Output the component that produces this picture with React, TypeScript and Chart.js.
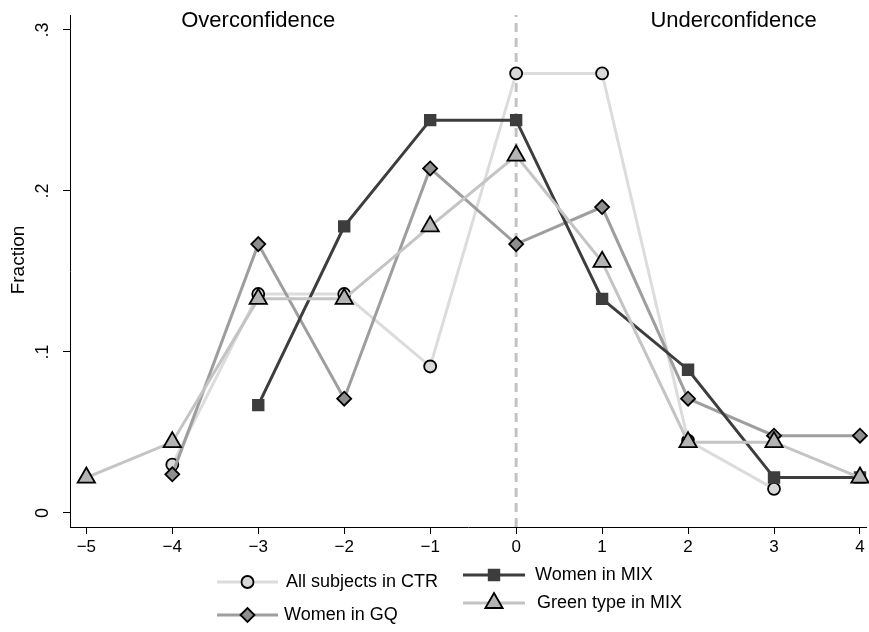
import React, { useEffect, useRef } from 'react';
import { Chart, registerables } from 'chart.js';
import { drawPoint } from 'chart.js/helpers';

Chart.register(...registerables);

// Gap between believed and actual rank (x) and share of subjects (y)
const ctrGap = [-4, -3, -2, -1, 0, 1, 2, 3];
const ctrFraction = [0.030, 0.136, 0.136, 0.091, 0.273, 0.273, 0.045, 0.015];

const gqGap = [-4, -3, -2, -1, 0, 1, 2, 3, 4];
const gqFraction = [0.024, 0.167, 0.071, 0.214, 0.167, 0.190, 0.071, 0.048, 0.048];

const mixGap = [-3, -2, -1, 0, 1, 2, 3, 4];
const mixFraction = [0.067, 0.178, 0.244, 0.244, 0.133, 0.089, 0.022, 0.022];

const greenGap = [-5, -4, -3, -2, -1, 0, 1, 2, 3, 4];
const greenFraction = [0.022, 0.044, 0.133, 0.133, 0.178, 0.222, 0.156, 0.044, 0.044, 0.022];

const xTicks = [-5, -4, -3, -2, -1, 0, 1, 2, 3, 4];
const yTicks = [0, 0.1, 0.2, 0.3];
const yTickLabels = ['0', '.1', '.2', '.3'];

const seriesNames = ['All subjects in CTR', 'Women in GQ', 'Women in MIX', 'Green type in MIX'];
const regionLabels = ['Overconfidence', 'Underconfidence'];
const regionLabelX = [-3, 2.53];
const regionLabelY = 0.3056;

const X_MIN = -5.19;
const X_MAX = 4.07;
const Y_MIN = -0.0087;
const Y_MAX = 0.3093;

const FONT = '"Liberation Sans", Arial, Helvetica, sans-serif';

const pts = (xs: number[], ys: number[]) => xs.map((x, i) => ({ x, y: ys[i] }));

type Style = {
  line: string;
  fill: string;
  edge: string;
  shape: string;
  radius: number;
};

const styles: Style[] = [
  { line: '#dcdcdc', fill: '#d8d8d8', edge: '#000000', shape: 'circle', radius: 6 },
  { line: '#9e9e9e', fill: '#8e8e8e', edge: '#000000', shape: 'rectRot', radius: 7 },
  { line: '#3d3d3d', fill: '#3d3d3d', edge: '#3d3d3d', shape: 'rect', radius: 7.5 },
  { line: '#c4c4c4', fill: '#b4b4b4', edge: '#000000', shape: 'triangle', radius: 10 },
];

// legend layout: [lineStart, lineEnd, textX, y]
const legendSlots = [
  [217, 278, 286, 582],
  [217, 278, 284, 615],
  [463, 525, 535, 575],
  [463, 525, 537, 603],
];

const decorPlugin = {
  id: 'decor',
  afterDraw(chart: any) {
    const ctx: CanvasRenderingContext2D = chart.ctx;
    const xs = chart.scales.x;
    const ys = chart.scales.y;
    ctx.save();
    ctx.fillStyle = '#000';
    ctx.textAlign = 'center';
    ctx.textBaseline = 'middle';

    // rotated y tick labels
    ctx.font = `18px ${FONT}`;
    yTicks.forEach((v, i) => {
      ctx.save();
      ctx.translate(43, ys.getPixelForValue(v));
      ctx.rotate(-Math.PI / 2);
      ctx.fillText(yTickLabels[i], 0, 0);
      ctx.restore();
    });

    // y axis title
    ctx.font = `19px ${FONT}`;
    ctx.save();
    ctx.translate(19, 260);
    ctx.rotate(-Math.PI / 2);
    ctx.fillText('Fraction', 0, 0);
    ctx.restore();

    // region labels
    ctx.font = `22px ${FONT}`;
    regionLabels.forEach((t, i) => {
      ctx.fillText(t, xs.getPixelForValue(regionLabelX[i]), ys.getPixelForValue(regionLabelY));
    });

    // legend
    ctx.font = `18px ${FONT}`;
    ctx.textAlign = 'left';
    seriesNames.forEach((name, i) => {
      const st = styles[i];
      const [x1, x2, tx, y] = legendSlots[i];
      ctx.strokeStyle = st.line;
      ctx.lineWidth = 3;
      ctx.setLineDash([]);
      ctx.beginPath();
      ctx.moveTo(x1, y);
      ctx.lineTo(x2, y);
      ctx.stroke();
      ctx.fillStyle = st.fill;
      ctx.strokeStyle = st.edge;
      ctx.lineWidth = 1.8;
      drawPoint(ctx, { pointStyle: st.shape, radius: st.radius, borderWidth: 1.8, rotation: 0 } as any, (x1 + x2) / 2, y);
      ctx.fillStyle = '#000';
      ctx.fillText(name, tx, y);
    });
    ctx.restore();
  },
};

const seriesData = [pts(ctrGap, ctrFraction), pts(gqGap, gqFraction), pts(mixGap, mixFraction), pts(greenGap, greenFraction)];

export default function App() {
  const canvasRef = useRef<HTMLCanvasElement | null>(null);

  useEffect(() => {
    document.body.style.margin = '0';
    const canvas = canvasRef.current;
    if (!canvas) return;

    const lineSets = seriesData.map((data, i) => ({
      label: seriesNames[i],
      data,
      borderColor: styles[i].line,
      borderWidth: 3,
      pointStyle: styles[i].shape,
      pointRadius: styles[i].radius,
      pointBackgroundColor: styles[i].fill,
      pointBorderColor: styles[i].edge,
      pointBorderWidth: 1.8,
      tension: 0,
      fill: false,
      clip: false as any,
    }));

    // later series drawn on top: Chart.js paints the first dataset last
    const ordered = [lineSets[3], lineSets[2], lineSets[1], lineSets[0]];

    const chart = new Chart(canvas, {
      type: 'line',
      data: {
        datasets: [
          ...ordered,
          {
            label: 'zero',
            data: [
              { x: 0, y: Y_MIN },
              { x: 0, y: Y_MAX },
            ],
            borderColor: '#c2c2c2',
            borderWidth: 3,
            borderDash: [9, 6],
            pointRadius: 0,
            fill: false,
          },
        ],
      },
      options: {
        responsive: false,
        animation: false,
        devicePixelRatio: 1,
        layout: { autoPadding: false, padding: { top: 15, right: 3, left: 0, bottom: 0 } },
        plugins: {
          legend: { display: false },
          tooltip: { enabled: false },
        },
        scales: {
          x: {
            type: 'linear',
            min: X_MIN,
            max: X_MAX,
            afterBuildTicks: (scale: any) => {
              scale.ticks = xTicks.map((v) => ({ value: v }));
            },
            afterFit: (scale: any) => {
              scale.height = 105;
              scale.paddingLeft = 0;
              scale.paddingRight = 0;
            },
            grid: { drawOnChartArea: false, drawTicks: true, tickLength: 7, color: '#000', lineWidth: 1 },
            border: { display: true, color: '#000', width: 1 },
            ticks: {
              color: '#000',
              padding: 3,
              maxRotation: 0,
              autoSkip: false,
              font: { family: FONT, size: 17 },
              callback: (v: any) => (Number(v) < 0 ? '\u2212' + Math.abs(Number(v)) : String(v)),
            },
          },
          y: {
            type: 'linear',
            min: Y_MIN,
            max: Y_MAX,
            afterBuildTicks: (scale: any) => {
              scale.ticks = yTicks.map((v) => ({ value: v }));
            },
            afterFit: (scale: any) => {
              scale.width = 70;
              scale.paddingTop = 0;
              scale.paddingBottom = 0;
            },
            grid: { drawOnChartArea: false, drawTicks: true, tickLength: 7, color: '#000', lineWidth: 1 },
            border: { display: true, color: '#000', width: 1 },
            ticks: { display: false },
          },
        },
      },
      plugins: [decorPlugin],
    });

    return () => chart.destroy();
  }, []);

  return (
    <div style={{ width: 869, height: 632, background: '#fff' }}>
      <canvas ref={canvasRef} width={869} height={632} style={{ display: 'block' }} />
    </div>
  );
}
